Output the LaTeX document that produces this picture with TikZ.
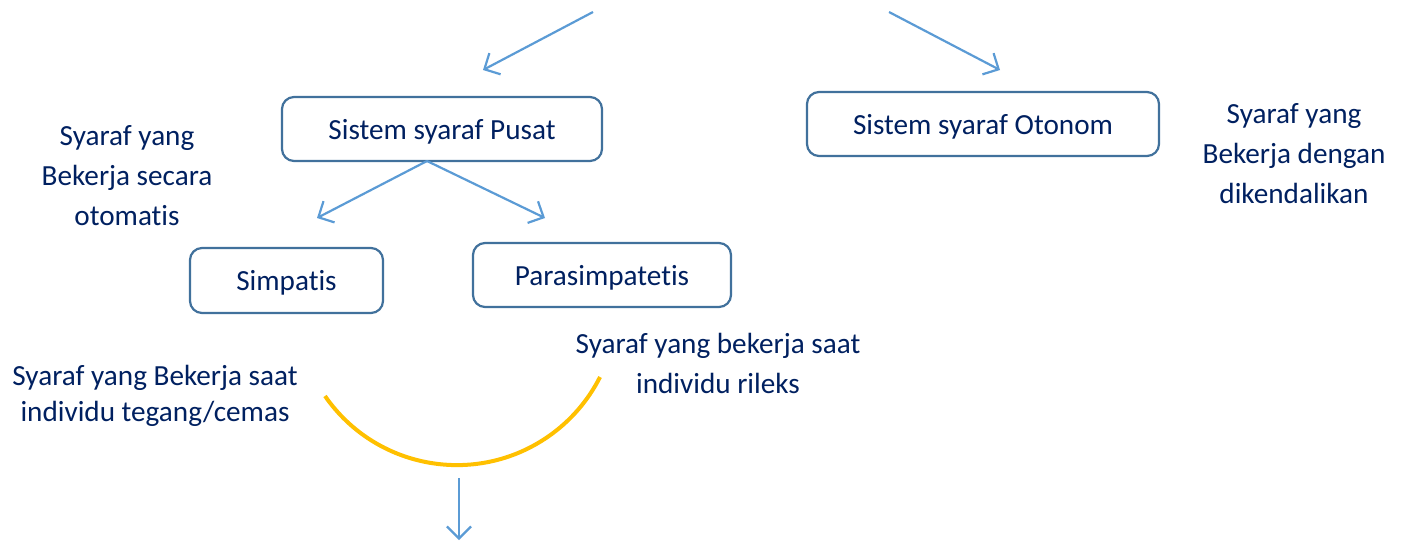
\documentclass[tikz,border=0pt]{standalone}
\usepackage{fontspec}
\setmainfont{Carlito}[Ligatures=NoCommon]
\usetikzlibrary{arrows.meta}
\definecolor{txtnavy}{RGB}{0,32,96}
\definecolor{boxline}{RGB}{65,113,156}
\definecolor{arrblue}{RGB}{91,155,213}
\definecolor{arcgold}{RGB}{255,192,0}
\begin{document}
\begin{tikzpicture}[x=0.5pt,y=-0.5pt,
  every node/.style={text=txtnavy, font=\fontsize{14.6}{20}\selectfont},
  box/.style={draw=boxline, line width=1.1pt, rounded corners=6pt, fill=white, inner sep=0pt, text height=12pt, text depth=2pt},
  label/.style={align=center, inner sep=0pt},
  conn/.style={draw=arrblue, line width=1.1pt, -{Straight Barb[length=6pt,width=12pt]}}]
\useasboundingbox (0,0) rectangle (1403,541);
% boxes
\node[box, minimum width=160pt, minimum height=32pt] (pusat) at (442,129) {Sistem syaraf Pusat};
\node[box, minimum width=176pt, minimum height=32pt] (otonom) at (983,124) {Sistem syaraf Otonom};
\node[box, minimum width=96.5pt, minimum height=32.5pt] (simpatis) at (286.5,280.5) {Simpatis};
\node[box, minimum width=129pt, minimum height=32pt] (para) at (602,275) {Parasimpatetis};
% labels
\node[label] (lotomatis) at (127,176) {Syaraf yang\\Bekerja secara\\otomatis};
\node[label] (lkendali) at (1294,154) {Syaraf yang\\Bekerja dengan\\dikendalikan};
\node[label, font=\fontsize{14.6}{18}\selectfont] (ltegang) at (155,396) {Syaraf yang Bekerja saat\\individu tegang/cemas};
\node[label] (lrileks) at (718,363) {Syaraf yang bekerja saat\\individu rileks};
% free ends
\coordinate (t1s) at (593,12);
\coordinate (t1e) at (483,70);
\coordinate (t2s) at (889,12);
\coordinate (t2e) at (1000,70);
\coordinate (pb) at (427,161);
\coordinate (se) at (317,218);
\coordinate (pe) at (545,218);
\coordinate (ds) at (459,478);
\coordinate (de) at (459,540);
\coordinate (arcA) at (325,396);
% connectors
\draw[conn] (t1s) -- (t1e);
\draw[conn] (t2s) -- (t2e);
\draw[conn] (pb) -- (se);
\draw[conn] (pb) -- (pe);
\draw[conn] (ds) -- (de);
% arc
\draw[arcgold, line width=2pt] (arcA) arc[start angle=145.3, end angle=26.8, radius=160.4];
\end{tikzpicture}
\end{document}
